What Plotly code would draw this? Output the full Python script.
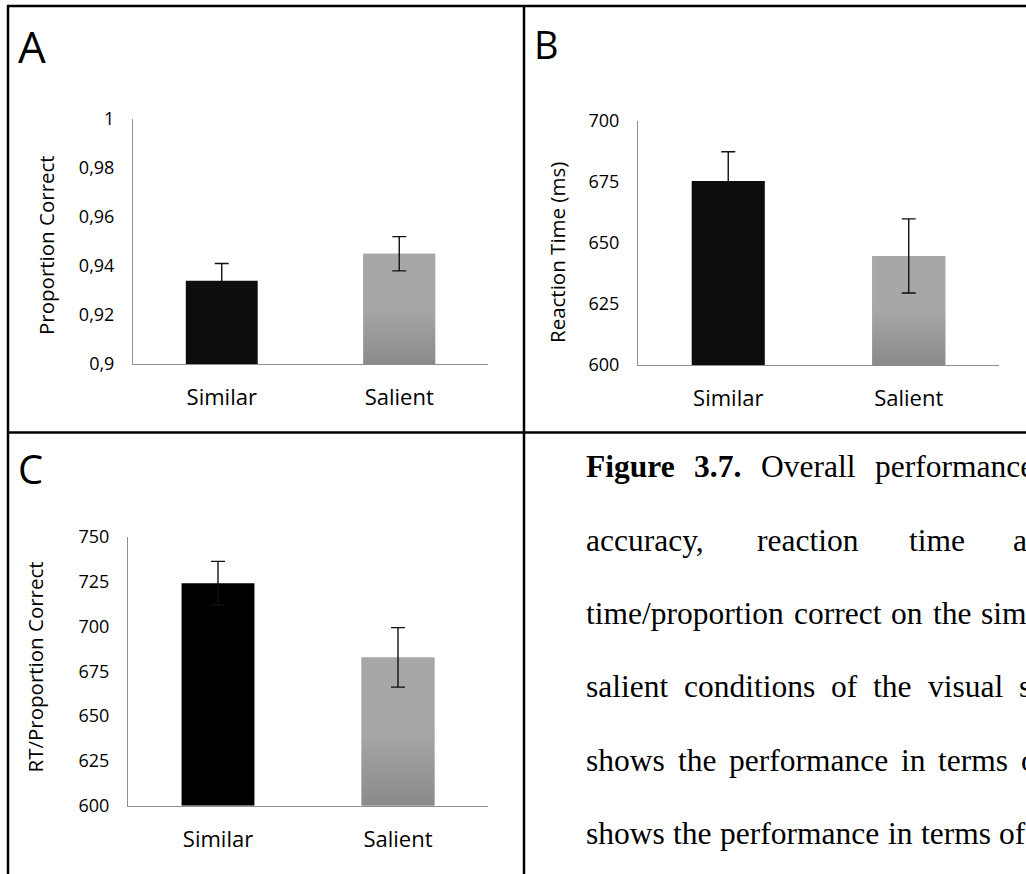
import plotly.graph_objects as go

# ---------------- data ----------------
categories = ["Similar", "Salient"]

acc_mean = [0.934, 0.945]
acc_err = [0.007, 0.007]

rt_mean = [675.4, 644.7]
rt_err = [12.0, 15.2]

rtpc_mean = [724.2, 682.8]
rtpc_err = [12.2, 16.6]

panel_letters = ["A", "B", "C"]
y_titles = ["Proportion Correct", "Reaction Time (ms)", "RT/Proportion Correct"]

# ---------------- style ----------------
W, H = 1026, 874
SANS = "Open Sans"
SERIF = "Liberation Serif"
DARK = "#0d0d0d"
GREY_TOP = "#a7a7a7"
GREY_BOT = "#8a8a8a"
BAR_W = 0.405


def px_x(x):
    return x / W


def px_y(y):
    return 1 - y / H


fig = go.Figure()

panels = [
    # (means, errs, yrange, dtick, x-domain px, y-domain px (top,bottom), similar colour)
    (acc_mean, acc_err, [0.9, 1.0], 0.02, (133, 488), (119, 364), DARK),
    (rt_mean, rt_err, [600, 700], 25, (638, 999), (121, 365), DARK),
    (rtpc_mean, rtpc_err, [600, 750], 25, (128, 488), (537, 805.7), "#000000"),
]

xpos = list(range(len(categories)))

for i, (means, errs, yr, dt, xd, yd, c0) in enumerate(panels):
    n = "" if i == 0 else str(i + 1)
    xa, ya = "x" + n, "y" + n
    base = yr[0]
    # bars
    fig.add_trace(go.Bar(
        x=xpos, y=[m - base for m in means], base=base, width=BAR_W,
        marker=dict(color=[c0, GREY_TOP], line=dict(width=0)),
        xaxis=xa, yaxis=ya, showlegend=False, hoverinfo="skip"))
    # gradient overlay for the salient bar
    j = 1
    fig.add_trace(go.Scatter(
        x=[xpos[j] - BAR_W / 2, xpos[j] + BAR_W / 2, xpos[j] + BAR_W / 2,
           xpos[j] - BAR_W / 2, xpos[j] - BAR_W / 2],
        y=[base, base, means[j], means[j], base],
        mode="lines", line=dict(width=0), fill="toself",
        fillgradient=dict(type="vertical",
                          colorscale=[[0, GREY_BOT], [0.5, GREY_TOP], [1, GREY_TOP]]),
        xaxis=xa, yaxis=ya, showlegend=False, hoverinfo="skip"))
    # error bars
    fig.add_trace(go.Scatter(
        x=xpos, y=means, mode="markers",
        marker=dict(size=1, color="rgba(0,0,0,0)"),
        error_y=dict(type="data", array=errs, visible=True,
                     color="#111111", thickness=1.4, width=7),
        xaxis=xa, yaxis=ya, showlegend=False, hoverinfo="skip"))

    fig.update_layout(**{
        ("xaxis" + n): dict(
            domain=[px_x(xd[0]), px_x(xd[1])], range=[-0.5, 1.5],
            tickvals=xpos, ticktext=categories, showgrid=False, zeroline=False,
            showline=True, linecolor="#8f8f8f", linewidth=1, ticks="",
            ticklabelstandoff=14, automargin=False,
            tickfont=dict(family=SANS, size=22, color="#000000"),
            anchor=ya, fixedrange=True),
        ("yaxis" + n): dict(
            domain=[px_y(yd[1]), px_y(yd[0])], range=yr, tick0=yr[0], dtick=dt,
            showgrid=False, zeroline=False, showline=True, linecolor="#8f8f8f",
            linewidth=1, ticks="", ticklabelstandoff=14, automargin=False,
            tickfont=dict(family=SANS, size=18, color="#000000"),
            anchor=xa, fixedrange=True),
    })

annotations = []
# panel letters
for txt, (x, y, s) in zip(panel_letters, [(31.5, 46, 44), (546, 44, 38), (30, 468, 40)]):
    annotations.append(dict(text=txt, x=px_x(x), y=px_y(y), xref="paper", yref="paper",
                            xanchor="center", yanchor="middle", showarrow=False,
                            font=dict(family=SANS, size=s, color="#000000")))
# y-axis titles
for txt, (x, y) in zip(y_titles, [(46, 245), (557, 253), (34, 667.5)]):
    annotations.append(dict(text=txt, x=px_x(x), y=px_y(y), xref="paper", yref="paper",
                            xanchor="center", yanchor="middle", textangle=-90,
                            showarrow=False,
                            font=dict(family=SANS, size=20.5, color="#000000")))

# caption text (justified lines placed word by word)
caption_lines = [
    [("<b>Figure</b>", 585), ("<b>3.7.</b>", 693.3), ("Overall", 759.5), ("performance", 873.5)],
    [("accuracy,", 585), ("reaction", 755.5), ("time", 907.7), ("and", 1012)],
    [("time/proportion", 585), ("correct", 792.8), ("on", 890.1), ("the", 931.6),
     ("similar", 980)],
    [("salient", 585), ("conditions", 683.1), ("of", 830.3), ("the", 872.4),
     ("visual", 926.8), ("search", 1018)],
    [("shows", 585), ("the", 676.6), ("performance", 727.9), ("in", 899.9),
     ("terms", 937.2), ("of", 1020)],
    [("shows", 585), ("the", 672.2), ("performance", 719.1), ("in", 886.7),
     ("terms", 919.6), ("of", 998)],
]
baselines = [476.7, 550, 623.3, 696.7, 770, 843.3]
for line, bl in zip(caption_lines, baselines):
    for word, x in line:
        annotations.append(dict(text=word, x=px_x(x), y=px_y(bl - 10), xref="paper",
                                yref="paper", xanchor="left", yanchor="middle",
                                showarrow=False, borderpad=0,
                                font=dict(family=SERIF, size=31.5, color="#000000")))

# panel borders
shapes = []
LW = 2.5
for x0, y0, x1, y1 in [(7, 6, 1026, 6), (8, 5, 8, 874), (524, 5, 524, 874), (7, 432.5, 1026, 432.5)]:
    shapes.append(dict(type="line", xref="paper", yref="paper",
                       x0=px_x(x0), y0=px_y(y0), x1=px_x(x1), y1=px_y(y1),
                       line=dict(color="#000000", width=LW)))

fig.update_layout(
    width=W, height=H, margin=dict(l=0, r=0, t=0, b=0, pad=0, autoexpand=False),
    paper_bgcolor="white", plot_bgcolor="white",
    separators=", ", showlegend=False,
    annotations=annotations, shapes=shapes,
    font=dict(family=SANS, color="#000000"),
)

fig.write_html("out.html", config={"displayModeBar": False})
